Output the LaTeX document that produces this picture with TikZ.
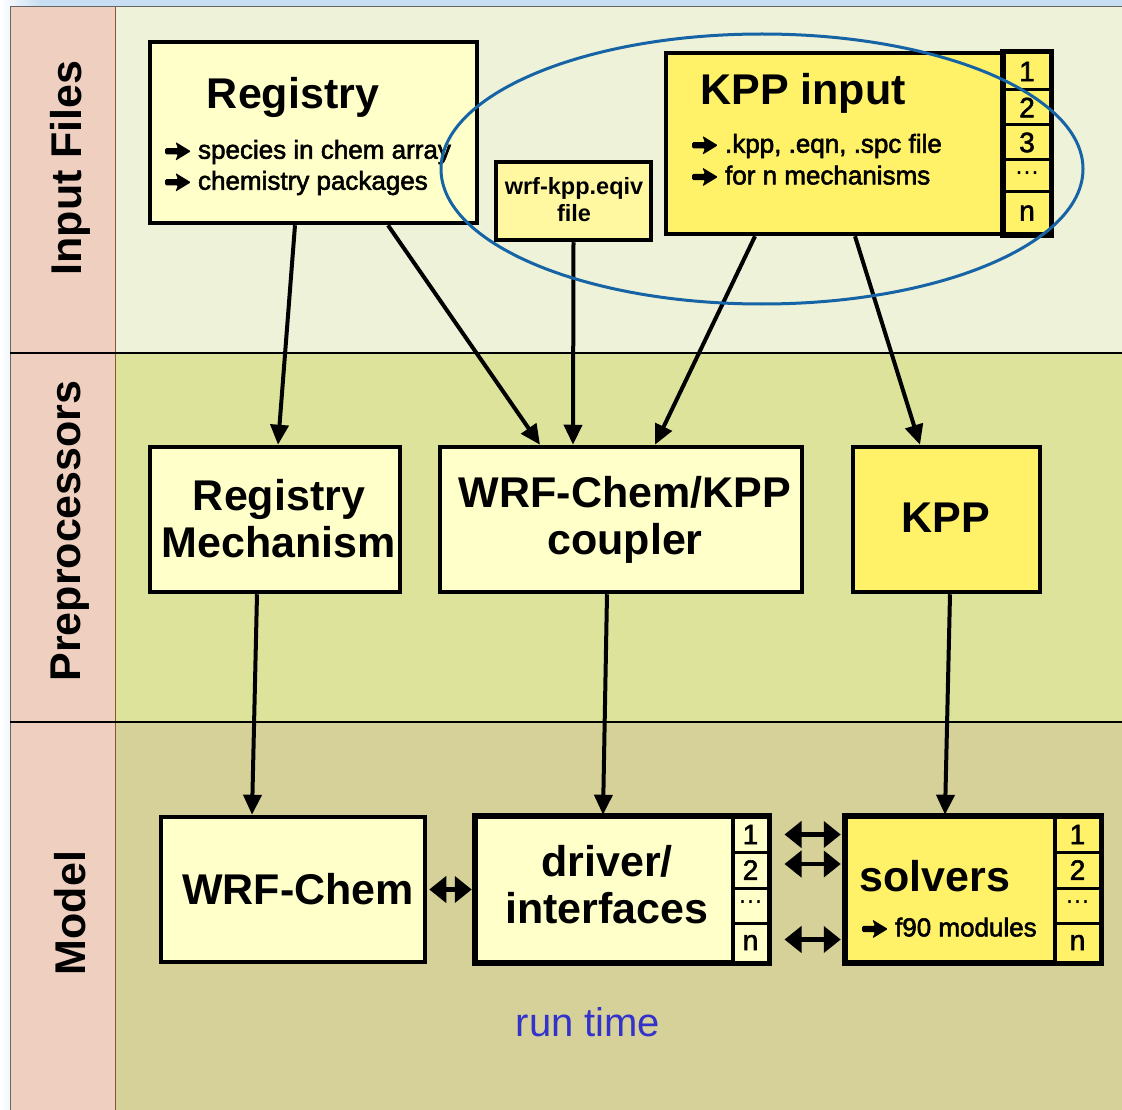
\documentclass[tikz,border=0pt]{standalone}
\usepackage{fontspec}
\setmainfont{Liberation Sans}
\newfontfamily\symf{DejaVu Sans}
\font\subfnt="Liberation Sans:embolden=2.2" at 26pt
\font\cellfnt="Liberation Sans:embolden=2" at 28pt
\usetikzlibrary{arrows.meta}
\definecolor{bgblue}{RGB}{200,222,242}
\definecolor{labpink}{RGB}{238,207,192}
\definecolor{bandA}{RGB}{238,242,216}
\definecolor{bandB}{RGB}{222,227,156}
\definecolor{bandC}{RGB}{214,209,152}
\definecolor{lbox}{RGB}{255,255,202}
\definecolor{ybox}{RGB}{255,242,104}
\definecolor{mbox}{RGB}{255,248,160}
\definecolor{ellblue}{RGB}{22,100,165}
\definecolor{runblue}{RGB}{51,51,204}
\newcommand\bularr{\tikz[baseline=0pt,x=1.35pt,y=1.35pt]\fill[black,rounded corners=1.2pt] (0,3.2) -- (9.5,3.2) -- (7.5,-1.5) -- (19,5.5) -- (7.5,12.5) -- (9.5,7.8) -- (0,7.8) -- cycle;}
\newcommand\mdots{{\symf\fontsize{24}{26}\selectfont ⋯}}
\begin{document}
\begin{tikzpicture}[x=1pt,y=-1pt,
  box/.style={draw, line width=4.5pt, inner sep=0pt},
  lb/.style={box, fill=lbox},
  yb/.style={box, fill=ybox},
  cellbox/.style={draw, line width=3pt, inner sep=0pt, font=\cellfnt},
  big/.style={font=\fontsize{43}{47}\selectfont\bfseries, inner sep=0pt, align=center},
  sub/.style={font=\subfnt, inner sep=0pt, anchor=west},
  side/.style={font=\fontsize{43}{47}\selectfont\bfseries, inner sep=0pt, rotate=90},
  arr/.style={line width=4pt, -{Triangle[length=20pt,width=18pt]}},
  dbl/.style={line width=4.5pt, {Triangle[length=17pt,width=26pt]}-{Triangle[length=17pt,width=26pt]}},
]
\useasboundingbox (0,0) rectangle (1122,1110);
% background
\shade[left color=white, right color=bgblue] (0,0) rectangle (40,1110);
\fill[bgblue] (40,0) rectangle (1122,7);
% bands
\fill[labpink] (10,7) rectangle (115,1110);
\fill[bandA] (115,7) rectangle (1122,353);
\fill[bandB] (115,353) rectangle (1122,722);
\fill[bandC] (115,722) rectangle (1122,1110);
\draw[line width=1pt, black!60] (10,1110) -- (10,7) -- (1122,7);
\draw[line width=1pt, brown!70!black] (115,7) -- (115,1110);
\draw[line width=2.5pt] (10,353) -- (1122,353);
\draw[line width=2.5pt] (10,722) -- (1122,722);
\node[side] (lin) at (70,168) {Input Files};
\node[side] (lpre) at (70,531) {Preprocessors};
\node[side] (lmod) at (70,913) {Model};

% Input files row
\node[lb, minimum width=327pt, minimum height=181pt] (reg) at (313.5,132.5) {};
\node[big] (regT) at (293,97) {Registry};
\node[sub] (regA) at (165,152) {\bularr\ species in chem array};
\node[sub] (regB) at (165,183) {\bularr\ chemistry packages};

\node[box, fill=mbox, minimum width=155pt, minimum height=78pt] (eq) at (573.5,201) {};
\node[font=\fontsize{23.5}{27}\selectfont\bfseries, inner sep=0pt, align=center] (eqT) at (574,200) {wrf-kpp.eqiv\\file};

\node[yb, minimum width=338pt, minimum height=181pt] (kin) at (835,143.5) {};
\node[big] (kinT) at (803,93) {KPP input};
\node[sub] (kinA) at (692,146) {\bularr\ .kpp, .eqn, .spc file};
\node[sub] (kinB) at (692,176) {\bularr\ for n mechanisms};
\node[cellbox, fill=ybox, minimum width=46pt, minimum height=37pt] (k1) at (1027,71.5) {1};
\node[cellbox, fill=ybox, minimum width=46pt, minimum height=35pt] (k2) at (1027,107.5) {2};
\node[cellbox, fill=ybox, minimum width=46pt, minimum height=35pt] (k3) at (1027,142.5) {3};
\node[cellbox, fill=ybox, minimum width=46pt, minimum height=32pt] (k4) at (1027,176) {\mdots};
\node[cellbox, fill=ybox, minimum width=46pt, minimum height=42pt] (k5) at (1027,213) {n};
\draw[line width=4.5pt] (k1.north west) rectangle (k5.south east);

% Preprocessors row
\node[lb, minimum width=250pt, minimum height=145pt] (rm) at (275,519.5) {};
\node[big] (rmT) at (279,519) {Registry\\Mechanism};
\node[lb, minimum width=362pt, minimum height=145pt] (cp) at (621,519.5) {};
\node[big] (cpT) at (625,520) {WRF-Chem/KPP\\coupler};
\node[yb, minimum width=187pt, minimum height=145pt] (kpp) at (946.5,519.5) {};
\node[big] (kppT) at (946,518) {KPP};

% Model row
\node[lb, minimum width=264pt, minimum height=145pt] (wc) at (293,889.5) {};
\node[big] (wcT) at (298,889) {WRF-Chem};
\node[lb, minimum width=257pt, minimum height=145pt] (dr) at (604.5,889.5) {};
\node[big] (drT) at (607,885) {driver/\\interfaces};
\node[cellbox, fill=lbox, minimum width=35pt, minimum height=35pt] (d1) at (750.5,834.5) {1};
\node[cellbox, fill=lbox, minimum width=35pt, minimum height=36pt] (d2) at (750.5,870) {2};
\node[cellbox, fill=lbox, minimum width=35pt, minimum height=35pt] (d3) at (750.5,905.5) {\mdots};
\node[cellbox, fill=lbox, minimum width=35pt, minimum height=39pt] (d4) at (750.5,942.5) {n};
\draw[line width=4.5pt] (dr.north west) rectangle (d4.south east);

\node[yb, minimum width=209pt, minimum height=145pt] (sv) at (950.5,889.5) {};
\node[big] (svT) at (935,876) {solvers};
\node[sub] (svA) at (862,928) {\bularr\ f90 modules};
\node[cellbox, fill=ybox, minimum width=45pt, minimum height=35pt] (s1) at (1077.5,834.5) {1};
\node[cellbox, fill=ybox, minimum width=45pt, minimum height=36pt] (s2) at (1077.5,870) {2};
\node[cellbox, fill=ybox, minimum width=45pt, minimum height=35pt] (s3) at (1077.5,905.5) {\mdots};
\node[cellbox, fill=ybox, minimum width=45pt, minimum height=39pt] (s4) at (1077.5,942.5) {n};
\draw[line width=4.5pt] (sv.north west) rectangle (s4.south east);

\node[font=\fontsize{40}{44}\selectfont, text=runblue, inner sep=0pt] (rt) at (588,1022) {run time};

% arrows
\draw[arr] ([xshift=-18.5pt]reg.south) -- ([xshift=3pt]rm.north);
\draw[arr] ([xshift=74.5pt]reg.south) -- ([xshift=-81pt]cp.north);
\draw[arr] (eq.south) -- ([xshift=-48pt]cp.north);
\draw[arr] ([xshift=-80pt]kin.south) -- ([xshift=34pt]cp.north);
\draw[arr] ([xshift=20pt]kin.south) -- ([xshift=-26.5pt]kpp.north);
\draw[arr] ([xshift=-18pt]rm.south) -- ([xshift=-41pt]wc.north);
\draw[arr] ([xshift=-14pt]cp.south) -- ([xshift=-1.5pt]dr.north);
\draw[arr] ([xshift=3.5pt]kpp.south) -- ([xshift=-5.5pt]sv.north);
\draw[dbl] ([xshift=2pt]wc.east) -- ([xshift=-2pt]dr.west);
\draw[dbl] ([xshift=15pt]d1.east) -- ([xshift=-3pt]sv.west |- d1.east);
\draw[dbl] ([xshift=15pt,yshift=6pt]d2.east) -- ([xshift=-3pt,yshift=6pt]sv.west |- d2.east);
\draw[dbl] ([xshift=15pt,yshift=3pt]d4.east) -- ([xshift=-3pt,yshift=3pt]sv.west |- d4.east);

% ellipse
\draw[ellblue, line width=3pt] (762,169) ellipse [x radius=321pt, y radius=135pt];
\end{tikzpicture}
\end{document}
